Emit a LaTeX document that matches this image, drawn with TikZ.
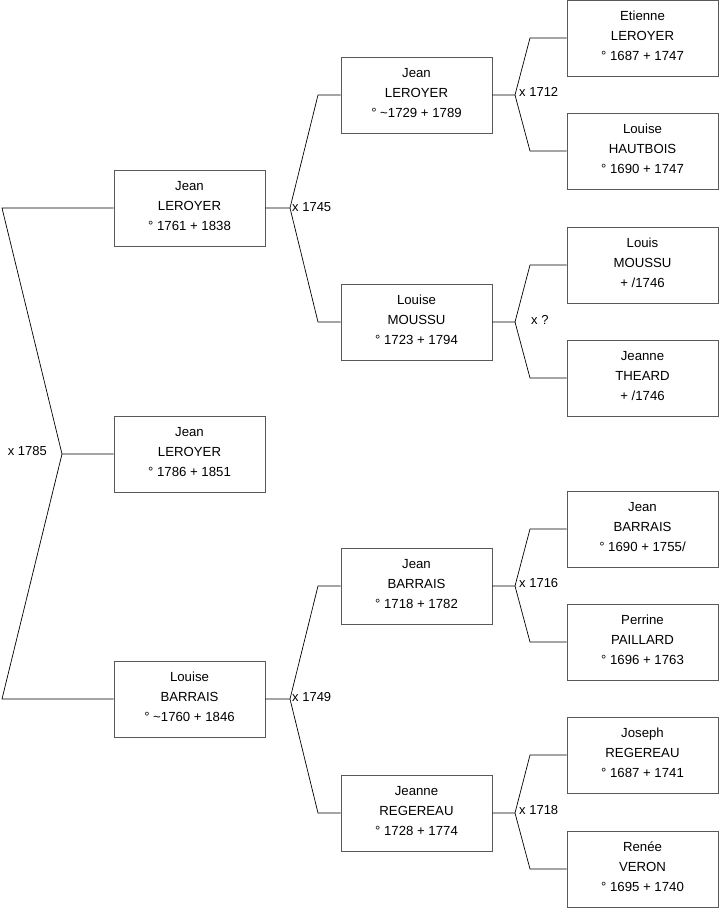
\documentclass[tikz,border=0pt]{standalone}
\usepackage{fontspec}
\setmainfont{Liberation Sans}
\begin{document}
\begin{tikzpicture}[x=1pt,y=-1pt,
  person/.style={draw=black!65, line width=0.8pt, rectangle, minimum width=151pt, minimum height=76pt,
    align=center, font=\fontsize{13.2}{20}\selectfont, inner sep=0pt, text depth=5pt},
  link/.style={draw=black, line width=0.7pt},
  marr/.style={font=\fontsize{13}{15}\selectfont, inner sep=0pt}]
\useasboundingbox[fill=white] (0,0) rectangle (719,908);
% generation 1
\node[person] (a1) at (189.5,208) {Jean\\LEROYER\\° 1761 + 1838};
\node[person] (r) at (189.5,454) {Jean\\LEROYER\\° 1786 + 1851};
\node[person] (a2) at (189.5,699) {Louise\\BARRAIS\\° \textasciitilde1760 + 1846};
% generation 2
\node[person] (b1) at (416.5,95) {Jean\\LEROYER\\° \textasciitilde1729 + 1789};
\node[person] (b2) at (416.5,322) {Louise\\MOUSSU\\° 1723 + 1794};
\node[person] (b3) at (416.5,586) {Jean\\BARRAIS\\° 1718 + 1782};
\node[person] (b4) at (416.5,813) {Jeanne\\REGEREAU\\° 1728 + 1774};
% generation 3
\node[person] (c1) at (642.5,38) {Etienne\\LEROYER\\° 1687 + 1747};
\node[person] (c2) at (642.5,151) {Louise\\HAUTBOIS\\° 1690 + 1747};
\node[person] (c3) at (642.5,265) {Louis\\MOUSSU\\+ /1746};
\node[person] (c4) at (642.5,378) {Jeanne\\THEARD\\+ /1746};
\node[person] (c5) at (642.5,529) {Jean\\BARRAIS\\° 1690 + 1755/};
\node[person] (c6) at (642.5,642) {Perrine\\PAILLARD\\° 1696 + 1763};
\node[person] (c7) at (642.5,755) {Joseph\\REGEREAU\\° 1687 + 1741};
\node[person] (c8) at (642.5,869) {Renée\\VERON\\° 1695 + 1740};
% junctions
\coordinate (v0) at (62,454);
\coordinate (t0a) at (2,208);
\coordinate (t0b) at (2,699);
\coordinate (v1) at (290,208);
\coordinate (t1a) at (318,95);
\coordinate (t1b) at (318,322);
\coordinate (v2) at (290,699);
\coordinate (t2a) at (318,586);
\coordinate (t2b) at (318,813);
\coordinate (v3) at (515,95);
\coordinate (t3a) at (530,38);
\coordinate (t3b) at (530,151);
\coordinate (v4) at (515,322);
\coordinate (t4a) at (530,265);
\coordinate (t4b) at (530,378);
\coordinate (v5) at (515,586);
\coordinate (t5a) at (530,529);
\coordinate (t5b) at (530,642);
\coordinate (v6) at (515,813);
\coordinate (t6a) at (530,755);
\coordinate (t6b) at (530,869);
% connectors
\draw[link] (r.west) -- (v0) -- (t0a) -- (a1.west);
\draw[link] (v0) -- (t0b) -- (a2.west);
\draw[link] (a1.east) -- (v1) -- (t1a) -- (b1.west);
\draw[link] (v1) -- (t1b) -- (b2.west);
\draw[link] (a2.east) -- (v2) -- (t2a) -- (b3.west);
\draw[link] (v2) -- (t2b) -- (b4.west);
\draw[link] (b1.east) -- (v3) -- (t3a) -- (c1.west);
\draw[link] (v3) -- (t3b) -- (c2.west);
\draw[link] (b2.east) -- (v4) -- (t4a) -- (c3.west);
\draw[link] (v4) -- (t4b) -- (c4.west);
\draw[link] (b3.east) -- (v5) -- (t5a) -- (c5.west);
\draw[link] (v5) -- (t5b) -- (c6.west);
\draw[link] (b4.east) -- (v6) -- (t6a) -- (c7.west);
\draw[link] (v6) -- (t6b) -- (c8.west);
% marriage labels
\node[marr, anchor=east] (m0) at (47,451) {x 1785};
\node[marr, anchor=west] (m1) at (292,207) {x 1745};
\node[marr, anchor=west] (m2) at (292,697) {x 1749};
\node[marr, anchor=west] (m3) at (519,92) {x 1712};
\node[marr, anchor=west] (m4) at (531,320) {x ?};
\node[marr, anchor=west] (m5) at (519,583) {x 1716};
\node[marr, anchor=west] (m6) at (519,810) {x 1718};
\end{tikzpicture}
\end{document}
